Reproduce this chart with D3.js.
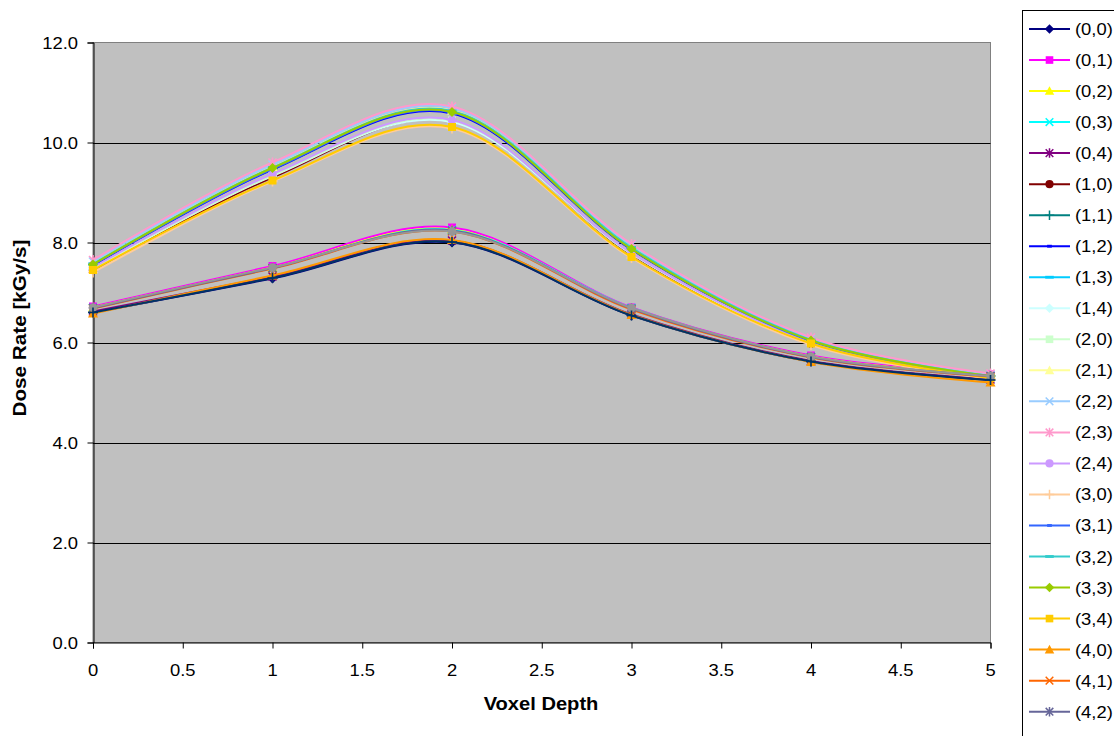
<!DOCTYPE html>
<html>
<head>
<meta charset="utf-8">
<script src="https://cdn.jsdelivr.net/npm/d3@7"></script>
<style>
  html, body { margin: 0; padding: 0; background: #fff; }
  svg { display: block; font-family: Arial, "Liberation Sans", sans-serif; }
</style>
</head>
<body>
<svg id="chart" width="1114" height="736"></svg>
<script>
// ---------- DATA ----------
const xValues = [0, 1, 2, 3, 4, 5];
const xTickLabels = ["0", "0.5", "1", "1.5", "2", "2.5", "3", "3.5", "4", "4.5", "5"];
const yTickLabels = ["0.0", "2.0", "4.0", "6.0", "8.0", "10.0", "12.0"];
const seriesNames = [
  "(0,0)", "(0,1)", "(0,2)", "(0,3)", "(0,4)",
  "(1,0)", "(1,1)", "(1,2)", "(1,3)", "(1,4)",
  "(2,0)", "(2,1)", "(2,2)", "(2,3)", "(2,4)",
  "(3,0)", "(3,1)", "(3,2)", "(3,3)", "(3,4)",
  "(4,0)", "(4,1)", "(4,2)", "(4,3)", "(4,4)"
];
const doseRates = [
  [6.60, 7.28, 8.00, 6.54, 5.62, 5.25], // (0,0)
  [6.72, 7.53, 8.30, 6.70, 5.74, 5.36], // (0,1)
  [6.70, 7.50, 8.26, 6.68, 5.72, 5.34], // (0,2)
  [6.69, 7.49, 8.25, 6.69, 5.71, 5.33], // (0,3)
  [6.62, 7.32, 8.04, 6.56, 5.63, 5.26], // (0,4)
  [7.45, 9.30, 10.43, 7.76, 5.98, 5.30], // (1,0)
  [7.56, 9.48, 10.60, 7.88, 6.04, 5.33], // (1,1)
  [7.54, 9.46, 10.58, 7.86, 6.03, 5.32], // (1,2)
  [7.57, 9.50, 10.62, 7.90, 6.05, 5.34], // (1,3)
  [7.47, 9.33, 10.41, 7.77, 5.99, 5.31], // (1,4)
  [7.48, 9.34, 10.44, 7.78, 6.00, 5.31], // (2,0)
  [7.58, 9.51, 10.64, 7.91, 6.05, 5.34], // (2,1)
  [7.62, 9.56, 10.69, 7.95, 6.08, 5.36], // (2,2)
  [7.65, 9.60, 10.72, 7.97, 6.10, 5.38], // (2,3)
  [7.50, 9.37, 10.45, 7.79, 6.01, 5.32], // (2,4)
  [7.40, 9.22, 10.28, 7.69, 5.95, 5.28], // (3,0)
  [7.55, 9.47, 10.60, 7.87, 6.03, 5.32], // (3,1)
  [7.57, 9.50, 10.63, 7.90, 6.05, 5.33], // (3,2)
  [7.56, 9.49, 10.61, 7.87, 6.04, 5.33], // (3,3)
  [7.45, 9.24, 10.31, 7.71, 5.98, 5.29], // (3,4)
  [6.58, 7.34, 8.05, 6.55, 5.61, 5.20], // (4,0)
  [6.68, 7.48, 8.22, 6.66, 5.70, 5.32], // (4,1)
  [6.69, 7.49, 8.24, 6.68, 5.71, 5.33], // (4,2)
  [6.70, 7.50, 8.22, 6.69, 5.72, 5.33], // (4,3)
  [6.60, 7.29, 8.01, 6.54, 5.62, 5.25]  // (4,4)
];
const seriesColors = [
  "#000080", "#FF00FF", "#FFFF00", "#00FFFF", "#800080",
  "#800000", "#008080", "#0000FF", "#00CCFF", "#CCFFFF",
  "#CCFFCC", "#FFFF99", "#99CCFF", "#FF99CC", "#CC99FF",
  "#FFCC99", "#3366FF", "#33CCCC", "#99CC00", "#FFCC00",
  "#FF9900", "#FF6600", "#666699", "#969696", "#003366"
];
const markerCycle = ["diamond", "square", "triangle", "x", "star", "circle", "plus", "dash", "longdash"];

// ---------- LAYOUT ----------
const svg = d3.select("#chart");
const W = 1114, H = 736;
const plot = { left: 93, right: 990.5, top: 42.5, bottom: 642.5 };
const SX = 1.15; // horizontal stretch of text, as in the reference

svg.append("rect").attr("width", W).attr("height", H).attr("fill", "#fff");

const x = d3.scaleLinear().domain([0, 5]).range([plot.left, plot.right]);
const y = d3.scaleLinear().domain([0, 12]).range([plot.bottom, plot.top]);

// plot area
svg.append("rect")
  .attr("x", plot.left).attr("y", plot.top)
  .attr("width", plot.right - plot.left).attr("height", plot.bottom - plot.top)
  .attr("fill", "#C0C0C0").attr("stroke", "#808080").attr("stroke-width", 1);

// gridlines
const yTickVals = yTickLabels.map(Number);
svg.append("g").selectAll("line").data(yTickVals.filter(v => v > 0 && v < 12)).join("line")
  .attr("x1", plot.left).attr("x2", plot.right)
  .attr("y1", d => Math.round(y(d)) + 0.5).attr("y2", d => Math.round(y(d)) + 0.5)
  .attr("stroke", "#000").attr("stroke-width", 1);

function stretchedText(g, tx, ty, str, anchor, opts = {}) {
  const t = g.append("text")
    .attr("transform", `translate(${tx},${ty}) ${opts.rotate ? "rotate(" + opts.rotate + ")" : ""} scale(${SX},1)`)
    .attr("text-anchor", anchor)
    .attr("font-size", opts.size || 16)
    .attr("font-weight", opts.bold ? "bold" : "normal")
    .attr("fill", "#000")
    .text(str);
  return t;
}

// Y axis
const yAxis = d3.axisLeft(y).tickValues(yTickVals).tickSize(6).tickFormat((d, i) => yTickLabels[i]);
const gy = svg.append("g").attr("transform", `translate(${plot.left + 0.5},0)`).call(yAxis);
gy.select(".domain").attr("stroke", "#000");
gy.selectAll(".tick line").attr("stroke", "#000");
gy.selectAll(".tick text").remove();
const gyl = svg.append("g");
yTickVals.forEach((v, i) => stretchedText(gyl, plot.left - 15, y(v) + 6, yTickLabels[i], "end"));

// X axis
const xTickVals = xTickLabels.map(Number);
const xAxis = d3.axisBottom(x).tickValues(xTickVals).tickSize(6).tickFormat((d, i) => xTickLabels[i]);
const gx = svg.append("g").attr("transform", `translate(0,${plot.bottom})`).call(xAxis);
gx.select(".domain").attr("stroke", "#000");
gx.selectAll(".tick line").attr("stroke", "#000");
gx.selectAll(".tick text").remove();
const gxl = svg.append("g");
xTickVals.forEach((v, i) => stretchedText(gxl, x(v), 676, xTickLabels[i], "middle"));

// Axis titles
stretchedText(svg, 541, 710, "Voxel Depth", "middle", { bold: true, size: 17.5 });
stretchedText(svg, 26, 328, "Dose Rate [kGy/s]", "middle", { bold: true, size: 18, rotate: -90 });

// ---------- MARKERS ----------
function drawMarker(g, type, color, cx, cy, scale) {
  const s = scale || 1;
  const m = g.append("g").attr("transform", `translate(${cx},${cy}) scale(${s})`);
  switch (type) {
    case "diamond":
      m.append("path").attr("d", "M0,-5L5,0L0,5L-5,0Z").attr("fill", color); break;
    case "square":
      m.append("rect").attr("x", -4).attr("y", -4).attr("width", 8).attr("height", 8).attr("fill", color); break;
    case "triangle":
      m.append("path").attr("d", "M0,-5L5,4L-5,4Z").attr("fill", color); break;
    case "x":
      m.append("path").attr("d", "M-4,-4L4,4M-4,4L4,-4").attr("stroke", color).attr("stroke-width", 1.6).attr("fill", "none"); break;
    case "star":
      m.append("path").attr("d", "M-4,-4L4,4M-4,4L4,-4M0,-5L0,5").attr("stroke", color).attr("stroke-width", 1.6).attr("fill", "none"); break;
    case "circle":
      m.append("circle").attr("r", 4.3).attr("fill", color); break;
    case "plus":
      m.append("path").attr("d", "M-5,0L5,0M0,-5L0,5").attr("stroke", color).attr("stroke-width", 1.6).attr("fill", "none"); break;
    case "dash":
      m.append("rect").attr("x", -2.5).attr("y", -1.5).attr("width", 5).attr("height", 3).attr("fill", color); break;
    case "longdash":
      m.append("rect").attr("x", -4.5).attr("y", -1.5).attr("width", 9).attr("height", 3).attr("fill", color); break;
  }
}

// ---------- SERIES ----------
const line = d3.line()
  .x((d, i) => x(xValues[i]))
  .y(d => y(d))
  .curve(d3.curveCatmullRom.alpha(0));

const gSeries = svg.append("g");
doseRates.forEach((vals, si) => {
  const color = seriesColors[si];
  const g = gSeries.append("g");
  g.append("path").attr("d", line(vals))
    .attr("fill", "none").attr("stroke", color).attr("stroke-width", 2);
  const type = markerCycle[si % markerCycle.length];
  vals.forEach((v, i) => drawMarker(g, type, color, x(xValues[i]), y(v), 1));
});

// ---------- LEGEND ----------
const lg = svg.append("g");
lg.append("rect").attr("x", 1022.5).attr("y", 10.5).attr("width", 200).attr("height", 800)
  .attr("fill", "#fff").attr("stroke", "#000").attr("stroke-width", 1);
seriesNames.forEach((name, si) => {
  const cy = 29 + si * 31.03;
  const color = seriesColors[si];
  lg.append("line").attr("x1", 1029).attr("x2", 1070).attr("y1", cy).attr("y2", cy)
    .attr("stroke", color).attr("stroke-width", 2);
  drawMarker(lg, markerCycle[si % markerCycle.length], color, 1049.5, cy, 0.95);
  stretchedText(lg, 1075, cy + 6, name, "start");
});
</script>
</body>
</html>
